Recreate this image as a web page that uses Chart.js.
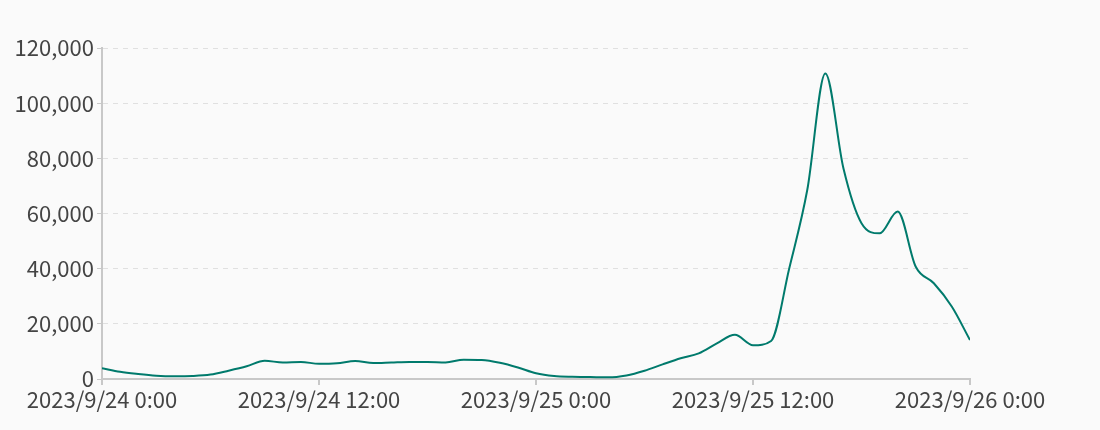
<!DOCTYPE html>
<html>
<head>
<meta charset="utf-8">
<script src="https://cdn.jsdelivr.net/npm/chart.js@4/dist/chart.umd.min.js"></script>
<style>
  html, body { margin: 0; padding: 0; background: #fafafa; }
  #wrap { width: 1100px; height: 430px; }
</style>
</head>
<body>
<div id="wrap"><canvas id="grafico" width="1100" height="430"></canvas></div>
<script>
// horas desde 2023/9/24 0:00
const hours = [
  0, 1, 2, 3, 4, 5, 6, 7, 8, 9, 10, 11, 12,
  13, 14, 15, 16, 17, 18, 19, 20, 21, 22, 23, 24,
  25, 26, 27, 28, 29, 30, 31, 32, 33, 34, 35, 36,
  37, 38, 39, 40, 41, 42, 43, 44, 45, 46, 47, 48
];

const values = [
  3900, 2600, 1800, 1200, 1000, 1100, 1600, 3000, 4600, 6600, 6000, 6200, 5500,
  5700, 6500, 5800, 6000, 6200, 6200, 6000, 7000, 6900, 5900, 4200, 2100,
  1100, 800, 700, 600, 1300, 3000, 5300, 7500, 9300, 12900, 16000, 12200,
  13800, 40000, 68500, 110800, 76400, 56500, 52800, 60700, 40700, 34700, 26200, 14100
];

const tickLabels = [
  '2023/9/24 0:00',
  '2023/9/24 12:00',
  '2023/9/25 0:00',
  '2023/9/25 12:00',
  '2023/9/26 0:00'
];

const fuente = { family: '"Noto Sans CJK JP", "Noto Sans", sans-serif', size: 22 };

const data = {
  datasets: [{
    label: '',
    data: hours.map((h, i) => ({ x: h, y: values[i] })),
    borderColor: '#007a6c',
    borderWidth: 2,
    pointRadius: 0,
    fill: false,
    cubicInterpolationMode: 'monotone'
  }]
};

const config = {
  type: 'line',
  data: data,
  options: {
    responsive: false,
    animation: false,
    layout: { padding: { top: 48, right: 130, bottom: 0, left: 0 } },
    plugins: {
      legend: { display: false },
      tooltip: { enabled: false }
    },
    scales: {
      x: {
        type: 'linear',
        min: 0,
        max: 48,
        afterFit: function(scale) { scale.height = 51; },
        border: { color: '#c8c8c8', width: 2 },
        grid: {
          drawOnChartArea: false,
          color: '#c8c8c8',
          tickLength: 6,
          lineWidth: 2
        },
        ticks: {
          stepSize: 12,
          autoSkip: false,
          maxRotation: 0,
          padding: 1,
          color: '#444444',
          font: fuente,
          callback: function(value) {
            return tickLabels[value / 12];
          }
        }
      },
      y: {
        min: 0,
        max: 120000,
        afterFit: function(scale) { scale.width = 102; },
        border: { color: '#c8c8c8', width: 2, dash: [5, 5] },
        grid: {
          color: '#e0e0e0',
          tickColor: '#c8c8c8',
          tickLength: 5,
          tickBorderDash: []
        },
        ticks: {
          stepSize: 20000,
          padding: 3,
          color: '#444444',
          font: fuente,
          callback: function(value) {
            return value.toLocaleString('en-US');
          }
        }
      }
    }
  }
};

const myChart = new Chart(document.getElementById('grafico'), config);
</script>
</body>
</html>
